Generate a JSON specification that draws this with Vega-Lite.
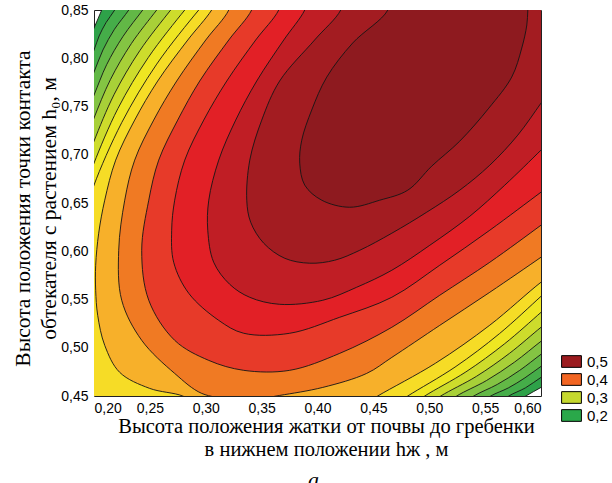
{
  "$schema": "https://vega.github.io/schema/vega-lite/v6.json",
  "width": 447,
  "height": 386,
  "autosize": {"type": "none"},
  "padding": {"left": 94, "top": 10, "right": 71, "bottom": 87},
  "background": "white",
  "config": {
    "view": {"stroke": "#222", "strokeWidth": 1, "fill": "#1b9045"},
    "axis": {"domain": false, "grid": false, "ticks": false, "labelFont": "Liberation Sans", "labelFontSize": 14, "labelColor": "#000", "titleFont": "Liberation Serif", "titleFontWeight": "normal", "titleColor": "#000"}
  },
  "title": {"text": "а", "orient": "bottom", "font": "Liberation Serif", "fontSize": 22, "fontStyle": "italic", "fontWeight": "normal", "color": "#000", "baseline": "top", "offset": 10, "dx": -4},
  "datasets": {
    "contours": [
      {"c":15,"i":0,"x":0.193,"y":0.812},{"c":15,"i":1,"x":0.2,"y":0.8313},{"c":15,"i":2,"x":0.2069,"y":0.85},{"c":15,"i":3,"x":0.212,"y":0.865},{"c":15,"i":4,"x":0.66,"y":0.91},{"c":15,"i":5,"x":0.611,"y":0.467},{"c":15,"i":6,"x":0.6,"y":0.4589},{"c":15,"i":7,"x":0.5864,"y":0.45},{"c":15,"i":8,"x":0.576,"y":0.442},{"c":15,"i":9,"x":0.16,"y":0.40},
      {"c":14,"i":0,"x":0.192,"y":0.788},{"c":14,"i":1,"x":0.2,"y":0.8085},{"c":14,"i":2,"x":0.2046,"y":0.8231},{"c":14,"i":3,"x":0.2108,"y":0.837},{"c":14,"i":4,"x":0.2185,"y":0.85},{"c":14,"i":5,"x":0.225,"y":0.865},{"c":14,"i":6,"x":0.66,"y":0.91},{"c":14,"i":7,"x":0.612,"y":0.478},{"c":14,"i":8,"x":0.6,"y":0.4693},{"c":14,"i":9,"x":0.586,"y":0.4584},{"c":14,"i":10,"x":0.5712,"y":0.45},{"c":14,"i":11,"x":0.56,"y":0.44},{"c":14,"i":12,"x":0.16,"y":0.40},
      {"c":13,"i":0,"x":0.192,"y":0.765},{"c":13,"i":1,"x":0.2,"y":0.7857},{"c":13,"i":2,"x":0.208,"y":0.8086},{"c":13,"i":3,"x":0.2183,"y":0.83},{"c":13,"i":4,"x":0.2311,"y":0.85},{"c":13,"i":5,"x":0.239,"y":0.865},{"c":13,"i":6,"x":0.66,"y":0.91},{"c":13,"i":7,"x":0.612,"y":0.49},{"c":13,"i":8,"x":0.6,"y":0.4807},{"c":13,"i":9,"x":0.5856,"y":0.4688},{"c":13,"i":10,"x":0.5708,"y":0.4584},{"c":13,"i":11,"x":0.555,"y":0.45},{"c":13,"i":12,"x":0.543,"y":0.44},{"c":13,"i":13,"x":0.16,"y":0.40},
      {"c":12,"i":0,"x":0.192,"y":0.74},{"c":12,"i":1,"x":0.2,"y":0.7618},{"c":12,"i":2,"x":0.2113,"y":0.7933},{"c":12,"i":3,"x":0.226,"y":0.8227},{"c":12,"i":4,"x":0.2436,"y":0.85},{"c":12,"i":5,"x":0.253,"y":0.865},{"c":12,"i":6,"x":0.66,"y":0.91},{"c":12,"i":7,"x":0.612,"y":0.503},{"c":12,"i":8,"x":0.6,"y":0.4932},{"c":12,"i":9,"x":0.581,"y":0.4766},{"c":12,"i":10,"x":0.5609,"y":0.462},{"c":12,"i":11,"x":0.5398,"y":0.45},{"c":12,"i":12,"x":0.528,"y":0.44},{"c":12,"i":13,"x":0.16,"y":0.40},
      {"c":11,"i":0,"x":0.193,"y":0.716},{"c":11,"i":1,"x":0.2,"y":0.738},{"c":11,"i":2,"x":0.2147,"y":0.7779},{"c":11,"i":3,"x":0.2335,"y":0.8153},{"c":11,"i":4,"x":0.2561,"y":0.85},{"c":11,"i":5,"x":0.266,"y":0.865},{"c":11,"i":6,"x":0.66,"y":0.91},{"c":11,"i":7,"x":0.612,"y":0.517},{"c":11,"i":8,"x":0.6,"y":0.5067},{"c":11,"i":9,"x":0.5763,"y":0.4851},{"c":11,"i":10,"x":0.5512,"y":0.466},{"c":11,"i":11,"x":0.5246,"y":0.45},{"c":11,"i":12,"x":0.513,"y":0.44},{"c":11,"i":13,"x":0.16,"y":0.40},
      {"c":10,"i":0,"x":0.193,"y":0.692},{"c":10,"i":1,"x":0.2,"y":0.7141},{"c":10,"i":2,"x":0.2181,"y":0.7627},{"c":10,"i":3,"x":0.241,"y":0.8079},{"c":10,"i":4,"x":0.2686,"y":0.85},{"c":10,"i":5,"x":0.279,"y":0.865},{"c":10,"i":6,"x":0.66,"y":0.91},{"c":10,"i":7,"x":0.612,"y":0.532},{"c":10,"i":8,"x":0.6,"y":0.5212},{"c":10,"i":9,"x":0.5718,"y":0.4942},{"c":10,"i":10,"x":0.5421,"y":0.4703},{"c":10,"i":11,"x":0.5103,"y":0.45},{"c":10,"i":12,"x":0.498,"y":0.44},{"c":10,"i":13,"x":0.16,"y":0.40},
      {"c":9,"i":0,"x":0.193,"y":0.668},{"c":9,"i":1,"x":0.2,"y":0.6913},{"c":9,"i":2,"x":0.2214,"y":0.7479},{"c":9,"i":3,"x":0.2486,"y":0.8008},{"c":9,"i":4,"x":0.2812,"y":0.85},{"c":9,"i":5,"x":0.292,"y":0.865},{"c":9,"i":6,"x":0.66,"y":0.91},{"c":9,"i":7,"x":0.612,"y":0.549},{"c":9,"i":8,"x":0.6,"y":0.5367},{"c":9,"i":9,"x":0.5674,"y":0.5041},{"c":9,"i":10,"x":0.5328,"y":0.475},{"c":9,"i":11,"x":0.496,"y":0.45},{"c":9,"i":12,"x":0.484,"y":0.44},{"c":9,"i":13,"x":0.16,"y":0.40},
      {"c":8,"i":0,"x":0.194,"y":0.645},{"c":8,"i":1,"x":0.2,"y":0.6685},{"c":8,"i":2,"x":0.2248,"y":0.7333},{"c":8,"i":3,"x":0.2561,"y":0.7939},{"c":8,"i":4,"x":0.2937,"y":0.85},{"c":8,"i":5,"x":0.305,"y":0.865},{"c":8,"i":6,"x":0.66,"y":0.91},{"c":8,"i":7,"x":0.612,"y":0.566},{"c":8,"i":8,"x":0.6,"y":0.5533},{"c":8,"i":9,"x":0.5628,"y":0.5146},{"c":8,"i":10,"x":0.5231,"y":0.48},{"c":8,"i":11,"x":0.4808,"y":0.45},{"c":8,"i":12,"x":0.468,"y":0.44},{"c":8,"i":13,"x":0.16,"y":0.40},
      {"c":7,"i":0,"x":0.294,"y":0.44},{"c":7,"i":1,"x":0.2794,"y":0.45},{"c":7,"i":2,"x":0.2498,"y":0.4579},{"c":7,"i":3,"x":0.223,"y":0.4745},{"c":7,"i":4,"x":0.2096,"y":0.5025},{"c":7,"i":5,"x":0.2033,"y":0.5336},{"c":7,"i":6,"x":0.2015,"y":0.5596},{"c":7,"i":7,"x":0.2015,"y":0.5855},{"c":7,"i":8,"x":0.2042,"y":0.6187},{"c":7,"i":9,"x":0.2096,"y":0.6529},{"c":7,"i":10,"x":0.2194,"y":0.6944},{"c":7,"i":11,"x":0.2364,"y":0.7359},{"c":7,"i":12,"x":0.257,"y":0.7764},{"c":7,"i":13,"x":0.2839,"y":0.8189},{"c":7,"i":14,"x":0.3053,"y":0.85},{"c":7,"i":15,"x":0.314,"y":0.87},{"c":7,"i":16,"x":0.66,"y":0.91},{"c":7,"i":17,"x":0.615,"y":0.58},{"c":7,"i":18,"x":0.6,"y":0.5679},{"c":7,"i":19,"x":0.5542,"y":0.5234},{"c":7,"i":20,"x":0.5055,"y":0.4839},{"c":7,"i":21,"x":0.4539,"y":0.45},{"c":7,"i":22,"x":0.44,"y":0.44},
      {"c":6,"i":0,"x":0.325,"y":0.87},{"c":6,"i":1,"x":0.3206,"y":0.85},{"c":6,"i":2,"x":0.3,"y":0.8189},{"c":6,"i":3,"x":0.274,"y":0.7764},{"c":6,"i":4,"x":0.2534,"y":0.7359},{"c":6,"i":5,"x":0.2364,"y":0.6944},{"c":6,"i":6,"x":0.2275,"y":0.6529},{"c":6,"i":7,"x":0.2221,"y":0.601},{"c":6,"i":8,"x":0.2248,"y":0.5492},{"c":6,"i":9,"x":0.2427,"y":0.5077},{"c":6,"i":10,"x":0.2722,"y":0.4734},{"c":6,"i":11,"x":0.2964,"y":0.4527},{"c":6,"i":12,"x":0.3214,"y":0.4475},{"c":6,"i":13,"x":0.3483,"y":0.4475},{"c":6,"i":14,"x":0.3662,"y":0.4506},{"c":6,"i":15,"x":0.4047,"y":0.4589},{"c":6,"i":16,"x":0.444,"y":0.4734},{"c":6,"i":17,"x":0.4665,"y":0.49},{"c":6,"i":18,"x":0.5094,"y":0.5232},{"c":6,"i":19,"x":0.5542,"y":0.5575},{"c":6,"i":20,"x":0.6,"y":0.5938},{"c":6,"i":21,"x":0.615,"y":0.606},{"c":6,"i":22,"x":0.66,"y":0.91},
      {"c":5,"i":0,"x":0.346,"y":0.87},{"c":5,"i":1,"x":0.3411,"y":0.85},{"c":5,"i":2,"x":0.3206,"y":0.8189},{"c":5,"i":3,"x":0.2946,"y":0.7764},{"c":5,"i":4,"x":0.2749,"y":0.7359},{"c":5,"i":5,"x":0.2579,"y":0.6944},{"c":5,"i":6,"x":0.249,"y":0.6529},{"c":5,"i":7,"x":0.2427,"y":0.601},{"c":5,"i":8,"x":0.249,"y":0.5492},{"c":5,"i":9,"x":0.2722,"y":0.5077},{"c":5,"i":10,"x":0.3027,"y":0.4869},{"c":5,"i":11,"x":0.334,"y":0.4766},{"c":5,"i":12,"x":0.3751,"y":0.4766},{"c":5,"i":13,"x":0.4199,"y":0.4942},{"c":5,"i":14,"x":0.4665,"y":0.5212},{"c":5,"i":15,"x":0.5094,"y":0.5544},{"c":5,"i":16,"x":0.5542,"y":0.5886},{"c":5,"i":17,"x":0.6,"y":0.627},{"c":5,"i":18,"x":0.615,"y":0.64},{"c":5,"i":19,"x":0.66,"y":0.91},
      {"c":4,"i":0,"x":0.37,"y":0.87},{"c":4,"i":1,"x":0.3653,"y":0.85},{"c":4,"i":2,"x":0.3447,"y":0.8189},{"c":4,"i":3,"x":0.3188,"y":0.7764},{"c":4,"i":4,"x":0.2982,"y":0.7359},{"c":4,"i":5,"x":0.2812,"y":0.6944},{"c":4,"i":6,"x":0.2722,"y":0.6529},{"c":4,"i":7,"x":0.2695,"y":0.6218},{"c":4,"i":8,"x":0.2713,"y":0.5886},{"c":4,"i":9,"x":0.2848,"y":0.5564},{"c":4,"i":10,"x":0.3116,"y":0.5284},{"c":4,"i":11,"x":0.334,"y":0.515},{"c":4,"i":12,"x":0.3751,"y":0.515},{"c":4,"i":13,"x":0.4199,"y":0.5316},{"c":4,"i":14,"x":0.4665,"y":0.5523},{"c":4,"i":15,"x":0.5094,"y":0.5855},{"c":4,"i":16,"x":0.5542,"y":0.6218},{"c":4,"i":17,"x":0.6,"y":0.6612},{"c":4,"i":18,"x":0.615,"y":0.674},{"c":4,"i":19,"x":0.66,"y":0.91},
      {"c":3,"i":0,"x":0.394,"y":0.87},{"c":3,"i":1,"x":0.3886,"y":0.85},{"c":3,"i":2,"x":0.3698,"y":0.8189},{"c":3,"i":3,"x":0.3456,"y":0.7764},{"c":3,"i":4,"x":0.3268,"y":0.7359},{"c":3,"i":5,"x":0.3116,"y":0.6944},{"c":3,"i":6,"x":0.3027,"y":0.6529},{"c":3,"i":7,"x":0.3018,"y":0.6218},{"c":3,"i":8,"x":0.3071,"y":0.5886},{"c":3,"i":9,"x":0.3214,"y":0.5658},{"c":3,"i":10,"x":0.3393,"y":0.5523},{"c":3,"i":11,"x":0.3662,"y":0.545},{"c":3,"i":12,"x":0.4047,"y":0.5492},{"c":3,"i":13,"x":0.4351,"y":0.5627},{"c":3,"i":14,"x":0.4665,"y":0.5803},{"c":3,"i":15,"x":0.5005,"y":0.6062},{"c":3,"i":16,"x":0.5363,"y":0.6363},{"c":3,"i":17,"x":0.5676,"y":0.6685},{"c":3,"i":18,"x":0.6,"y":0.7048},{"c":3,"i":19,"x":0.615,"y":0.722},{"c":3,"i":20,"x":0.66,"y":0.91},
      {"c":2,"i":0,"x":0.425,"y":0.87},{"c":2,"i":1,"x":0.4208,"y":0.85},{"c":2,"i":2,"x":0.3974,"y":0.8189},{"c":2,"i":3,"x":0.3661,"y":0.7764},{"c":2,"i":4,"x":0.3501,"y":0.7359},{"c":2,"i":5,"x":0.3394,"y":0.6944},{"c":2,"i":6,"x":0.3367,"y":0.6529},{"c":2,"i":7,"x":0.3402,"y":0.6301},{"c":2,"i":8,"x":0.3519,"y":0.6083},{"c":2,"i":9,"x":0.3707,"y":0.5927},{"c":2,"i":10,"x":0.393,"y":0.5876},{"c":2,"i":11,"x":0.4154,"y":0.5907},{"c":2,"i":12,"x":0.4378,"y":0.601},{"c":2,"i":13,"x":0.4665,"y":0.6187},{"c":2,"i":14,"x":0.4978,"y":0.6405},{"c":2,"i":15,"x":0.5273,"y":0.6633},{"c":2,"i":16,"x":0.5542,"y":0.6892},{"c":2,"i":17,"x":0.5792,"y":0.7203},{"c":2,"i":18,"x":0.6,"y":0.7535},{"c":2,"i":19,"x":0.613,"y":0.775},{"c":2,"i":20,"x":0.66,"y":0.91},
      {"c":1,"i":0,"x":0.465,"y":0.87},{"c":1,"i":1,"x":0.4629,"y":0.85},{"c":1,"i":2,"x":0.4315,"y":0.8158},{"c":1,"i":3,"x":0.4083,"y":0.7805},{"c":1,"i":4,"x":0.3948,"y":0.7463},{"c":1,"i":5,"x":0.3859,"y":0.7151},{"c":1,"i":6,"x":0.3841,"y":0.6913},{"c":1,"i":7,"x":0.3886,"y":0.6685},{"c":1,"i":8,"x":0.4038,"y":0.6529},{"c":1,"i":9,"x":0.4288,"y":0.6456},{"c":1,"i":10,"x":0.4557,"y":0.6529},{"c":1,"i":11,"x":0.4808,"y":0.6633},{"c":1,"i":12,"x":0.5022,"y":0.6882},{"c":1,"i":13,"x":0.5273,"y":0.7141},{"c":1,"i":14,"x":0.5533,"y":0.7483},{"c":1,"i":15,"x":0.5738,"y":0.7805},{"c":1,"i":16,"x":0.5828,"y":0.8106},{"c":1,"i":17,"x":0.5873,"y":0.8344},{"c":1,"i":18,"x":0.5882,"y":0.85},{"c":1,"i":19,"x":0.589,"y":0.87}
    ],
    "legend": [{"lg": "0,5"}, {"lg": "0,4"}, {"lg": "0,3"}, {"lg": "0,2"}]
  },
  "layer": [
    {
      "data": {"name": "contours"},
      "mark": {"type": "line", "interpolate": "catmull-rom", "stroke": "#151515", "strokeWidth": 0.9, "clip": true},
      "encoding": {
        "x": {"field": "x", "type": "quantitative", "scale": {"domain": [0.2, 0.6], "nice": false, "zero": false},
              "axis": {"values": [0.2, 0.25, 0.3, 0.35, 0.4, 0.45, 0.5, 0.55, 0.6], "labelExpr": "replace(format(datum.value, '.2f'), '.', ',')", "labelPadding": 5,
                       "title": ["Высота положения жатки от почвы до гребенки", "в  нижнем положении hж , м"], "titleFontSize": 20.5, "titleLineHeight": 23, "titlePadding": 1, "titleX": 232}},
        "y": {"field": "y", "type": "quantitative", "scale": {"domain": [0.45, 0.85], "nice": false, "zero": false},
              "axis": {"values": [0.45, 0.5, 0.55, 0.6, 0.65, 0.7, 0.75, 0.8, 0.85], "labelExpr": "replace(format(datum.value, '.2f'), '.', ',')", "labelPadding": 6,
                       "title": ["Высота положения точки контакта", "обтекателя с растением h₀, м"], "titleFontSize": 21.5, "titleLineHeight": 26, "titlePadding": 0, "titleY": 198}},
        "fill": {"field": "c", "type": "nominal", "legend": null,
                 "scale": {"domain": [1,2,3,4,5,6,7,8,9,10,11,12,13,14,15],
                           "range": ["#8e1a1f","#a31c21","#c01e25","#e22026","#e73a29","#f07a23","#f7b02a","#f6dc26","#eee622","#cddc2c","#a8d038","#84c443","#62b846","#45ad49","#2ea249"]}},
        "order": {"field": "i", "type": "quantitative"}
      }
    },
    {
      "data": {"name": "legend"},
      "mark": {"type": "square", "opacity": 0},
      "encoding": {
        "color": {"field": "lg", "type": "nominal",
                  "scale": {"domain": ["0,5", "0,4", "0,3", "0,2"], "range": ["#9b1b1f", "#f26522", "#c5d82e", "#2aa84a"]},
                  "legend": {"title": null, "orient": "none", "legendX": 468, "legendY": 342, "symbolType": "M-1.1,-0.65H1.1V0.65H-1.1Z", "symbolSize": 324, "symbolStrokeColor": "#000", "symbolStrokeWidth": 1, "symbolOpacity": 1, "labelFont": "Liberation Sans", "labelFontSize": 15, "labelColor": "#000", "labelOffset": 6, "rowPadding": -1}}
      }
    }
  ]
}
